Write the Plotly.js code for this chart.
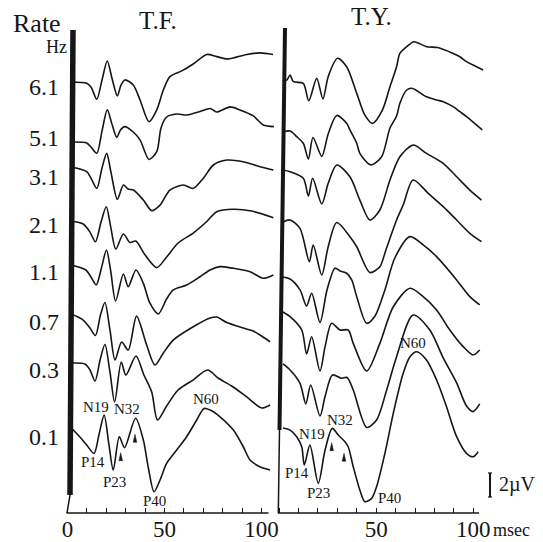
<!DOCTYPE html>
<html>
<head>
<meta charset="utf-8">
<script src="https://cdn.plot.ly/plotly-3.0.1.min.js"></script>
<style>
html,body{margin:0;padding:0;background:#fff;}
#chart{width:543px;height:542px;}
</style>
</head>
<body>
<div id="chart"></div>
<script>
// ---------- data (latency in msec, amplitude in µV relative to trace start) ----------
const rateLabels = ['6.1','5.1','3.1','2.1','1.1','0.7','0.3','0.1'];
const tickVals = [0,10,20,30,40,50,60,70,80,90,100];
const tickTextTF = ['0','','','','','50','','','','','100'];
const tickTextTY = ['','','','','','50','','','','','100'];
const peakNames = ['N19','N32','N60','P14','P23','P40'];

// T.F.
const tf61Lat = [2, 9.9, 12.1, 15.1, 17.8, 20.5, 22.9, 25.7, 27.6, 29.6, 33.9, 37.4, 42.0, 46.0, 49.4, 52.8, 58.9, 64.8, 71.8, 76.9, 82.7, 92.4, 99.2, 105.9];
const tf61Amp = [0, -0.11, -0.42, -1.44, 0.17, 1.75, 0.33, -1.17, -0.25, 0.17, -0.25, -1.5, -3.31, -2.33, -0.67, 0.44, 0.92, 1.5, 2.29, 2.11, 1.92, 2.29, 2.42, 2.29];
const tf51Lat = [2, 9.9, 12.1, 15.1, 17.8, 20.5, 22.9, 25.4, 27.3, 29.6, 33.9, 37.4, 42.0, 46.0, 48.2, 51.1, 56.3, 61.4, 68.3, 73.5, 76.9, 83.8, 88.9, 95.8, 100.9, 106.4];
const tf51Amp = [0, -0.08, -0.42, -0.94, 0.92, 2.67, 1.5, 0.38, 1.0, 1.28, 0.83, 0.17, -1.46, -0.81, 1.17, 2.08, 2.33, 2.25, 2.53, 2.79, 2.5, 2.92, 2.67, 2.17, 1.42, 1.28];
const tf31Lat = [2, 9.9, 12.1, 15.1, 17.8, 20.2, 22.4, 25.7, 28.8, 31.2, 34.0, 39.1, 43.4, 47.7, 52.8, 59.7, 64.8, 70.0, 75.2, 82.1, 90.6, 99.2, 106.1];
const tf31Amp = [0, -0.38, -0.92, -1.78, -0.08, 1.14, -0.42, -2.69, -1.5, -1.83, -1.92, -2.75, -3.63, -3.17, -1.92, -1.5, -1.78, -0.94, 0.17, 0.58, 0.44, 0.03, -0.25];
const tf21Lat = [2, 8.1, 11.6, 14.4, 17.3, 20.0, 22.2, 24.9, 28.8, 32.2, 35.2, 40.0, 46.0, 51.1, 57.0, 64.8, 71.8, 76.9, 85.5, 94.9, 106.1];
const tf21Amp = [0, -0.25, -0.92, -1.73, -0.08, 1.19, -0.42, -2.33, -1.08, -1.79, -1.67, -2.83, -3.88, -3.0, -1.83, -1.0, -0.04, 0.78, 0.98, 0.83, 0.27];
const tf11Lat = [2, 9.5, 12.1, 14.8, 17.5, 20.1, 22.2, 24.8, 28.8, 31.3, 35.3, 39.1, 42.5, 46.8, 51.1, 54.5, 61.4, 68.3, 73.5, 78.6, 85.5, 94.1, 100.9, 106.1];
const tf11Amp = [0, -0.42, -1.0, -1.67, -0.25, 1.25, -0.42, -3.0, -0.75, -1.81, -0.42, -1.53, -3.19, -4.08, -2.83, -2.08, -1.67, -0.98, -0.42, -0.14, -0.28, -0.56, -1.11, -0.83];
const tf07Lat = [2, 8.1, 11.6, 14.4, 17.0, 19.3, 21.9, 24.5, 27.9, 31.3, 35.6, 40.8, 45.1, 49.4, 54.5, 64.8, 73.5, 76.9, 82.1, 90.6, 95.8, 99.2, 104.4];
const tf07Amp = [0, -0.5, -1.17, -1.79, -0.08, 0.96, -1.33, -3.83, -2.33, -3.0, -0.17, -2.58, -4.25, -3.25, -2.17, -1.06, -0.33, -0.25, -0.71, -1.17, -1.42, -1.75, -2.31];
const tf03Lat = [2, 9.0, 11.6, 14.2, 16.8, 19.3, 21.9, 24.3, 27.7, 30.1, 35.3, 39.4, 43.4, 46.4, 51.1, 57.0, 64.7, 72.2, 77.6, 84.6, 92.4, 100.1, 104.4];
const tf03Amp = [0, -0.08, -0.58, -1.5, 0.25, 1.54, -0.75, -3.25, 0.08, -1.0, 0.58, -1.0, -2.42, -4.75, -3.58, -2.25, -1.42, -0.58, -1.25, -1.92, -2.83, -3.75, -3.5];
const tf01Lat = [2, 6.4, 9.9, 13.7, 16.2, 18.9, 21.4, 23.6, 26.7, 29.4, 35.1, 39.1, 41.6, 44.6, 47.7, 51.1, 56.3, 61.4, 66.6, 70.4, 73.5, 78.6, 85.5, 90.6, 94.1, 99.2, 104.4];
const tf01Amp = [0, -0.75, -1.42, -2.11, -0.58, 1.08, -1.42, -3.5, -0.73, -1.63, 0.81, -1.0, -3.25, -5.31, -4.33, -2.94, -1.83, -0.73, 0.67, 1.63, 1.5, 0.94, -0.17, -1.56, -2.67, -3.23, -3.5];

// T.Y.
const ty61Lat = [2, 4.0, 5.7, 7.4, 12.5, 15.3, 19.4, 22.6, 25.3, 30.1, 34.8, 40.0, 44.2, 48.1, 53.2, 57.1, 60.5, 62.2, 65.7, 69.4, 75.9, 81.7, 89.6, 93.1, 96.5, 99.9, 105.0];
const ty61Amp = [0, 0, 0.42, -0.14, -0.28, -1.73, 0.14, -1.57, 0.28, 1.81, 1.11, -1.11, -2.92, -3.61, -2.5, -0.56, 1.11, 2.22, 2.78, 3.19, 2.78, 2.71, 2.22, 1.94, 1.53, 1.25, 0.83];
const ty51Lat = [2, 5.7, 9.1, 12.5, 15.1, 17.5, 22.0, 25.3, 29.7, 34.8, 36.5, 40.0, 41.6, 47.3, 52.8, 57.1, 60.5, 62.2, 65.7, 68.4, 75.9, 81.1, 84.5, 89.6, 93.1, 96.5, 104.6];
const ty51Amp = [0, 0.08, -0.39, -0.94, -2.25, -0.46, -2.03, -0.17, 1.38, 0.73, 0.17, -0.94, -1.78, -2.75, -2.06, 0.33, 1.33, 2.39, 3.5, 3.64, 2.94, 2.67, 2.53, 2.11, 1.69, 1.28, 0.17];
const ty31Lat = [2, 5.7, 12.5, 15.1, 17.3, 22.0, 25.3, 29.7, 36.5, 41.6, 46.8, 51.9, 57.1, 62.2, 69.0, 75.9, 84.5, 91.4, 98.2, 104.2];
const ty31Amp = [0, -0.14, -0.69, -2.17, -0.69, -2.83, -1.11, 0.42, -0.56, -2.5, -4.17, -3.33, -0.83, 1.11, 2.08, 1.39, 0.56, -0.56, -1.67, -2.5];
const ty21Lat = [2, 5.7, 10.8, 15.6, 17.6, 22.0, 25.3, 29.7, 36.5, 40.0, 46.8, 51.9, 55.0, 60.5, 63.9, 69.0, 76.8, 84.5, 91.4, 98.2, 104.2];
const ty21Amp = [0, 0.17, -0.53, -3.31, -1.92, -4.42, -2.06, -0.04, -1.22, -2.06, -4.21, -3.72, -2.33, 0.17, 1.42, 3.5, 2.39, 1.28, 0.17, -0.94, -1.64];
const ty11Lat = [2, 5.7, 10.8, 14.2, 16.8, 21.1, 24.7, 28.8, 31.4, 34.8, 37.4, 40.0, 45.1, 49.4, 54.5, 59.6, 67.4, 74.2, 81.1, 91.4, 98.2, 103.3];
const ty11Amp = [0, -0.17, -1.08, -2.42, -1.36, -3.79, -1.08, 0.73, 0.5, 0.31, -0.25, -1.64, -3.86, -3.25, -1.08, 1.58, 3.36, 2.67, 1.69, -0.25, -1.64, -2.33];
const ty07Lat = [2, 5.7, 11.7, 14.2, 16.8, 21.1, 23.7, 27.1, 31.4, 35.6, 38.2, 45.1, 51.9, 58.8, 67.4, 74.2, 81.1, 87.9, 94.8, 99.9, 103.3];
const ty07Amp = [0, -0.39, -1.5, -3.5, -2.06, -4.92, -2.89, -0.94, -1.5, -1.5, -2.61, -4.92, -2.61, 0.44, 1.98, 1.28, 0.17, -1.5, -2.89, -3.58, -3.17];
const ty03Lat = [2, 5.7, 10.8, 13.8, 16.3, 21.1, 23.7, 27.5, 32.2, 35.0, 38.2, 45.1, 50.2, 55.4, 60.5, 69.0, 77.6, 84.5, 91.4, 96.5, 99.9, 103.3];
const ty03Amp = [0, -0.5, -1.61, -3.33, -1.75, -4.33, -2.72, -0.92, -1.19, -1.13, -2.17, -5.29, -4.67, -2.17, 0.61, 4.08, 2.83, 0.5, -1.58, -3.5, -3.97, -3.33];
const ty01Lat = [2, 5.7, 9.1, 11.7, 13.0, 15.9, 20.2, 23.7, 27.4, 30.5, 33.9, 35.6, 38.2, 41.6, 44.2, 47.7, 50.2, 54.5, 58.8, 63.9, 67.4, 70.8, 75.9, 81.1, 86.2, 91.4, 96.5, 99.9, 102.5];
const ty01Amp = [0, -0.17, -0.72, -1.56, -3.08, -1.42, -4.61, -1.83, -0.03, -0.58, -1.14, -1.56, -3.22, -5.17, -6.14, -5.86, -4.89, -2.11, 1.22, 4.56, 5.94, 6.36, 5.67, 4.0, 1.78, -0.72, -2.11, -2.39, -1.97];

// ---------- layout constants ----------
const W = 543, H = 542, ML = 40, MR = 40, MT = 10, MB = 29;
const PW = W - ML - MR, PH = H - MT - MB;
const PX_PER_UV = 12;               // 2 µV scale bar = 24 px
const fx = p => (p - ML) / PW;
const fy = p => (H - MB - p) / PH;
// vertical stacking offsets (µV above the x axis) for each rate
const offsetsTF = [35.92, 30.92, 28.83, 24.33, 20.67, 16.58, 12.5, 7.08];
const offsetsTY = [36.08, 31.75, 28.58, 24.25, 19.67, 16.75, 12.42, 7.08];

const tfSeries = [[tf61Lat,tf61Amp],[tf51Lat,tf51Amp],[tf31Lat,tf31Amp],[tf21Lat,tf21Amp],
                  [tf11Lat,tf11Amp],[tf07Lat,tf07Amp],[tf03Lat,tf03Amp],[tf01Lat,tf01Amp]];
const tySeries = [[ty61Lat,ty61Amp],[ty51Lat,ty51Amp],[ty31Lat,ty31Amp],[ty21Lat,ty21Amp],
                  [ty11Lat,ty11Amp],[ty07Lat,ty07Amp],[ty03Lat,ty03Amp],[ty01Lat,ty01Amp]];

const lineStyle = {color:'#161616', width:1.6, shape:'spline', smoothing:0.8};
const traces = [];
tfSeries.forEach((s,i) => traces.push({
  x: s[0], y: s[1].map(v => v + offsetsTF[i]), xaxis:'x', yaxis:'y',
  type:'scatter', mode:'lines', line: lineStyle, name:'T.F. '+rateLabels[i], hoverinfo:'skip'
}));
tySeries.forEach((s,i) => traces.push({
  x: s[0], y: s[1].map(v => v + offsetsTY[i]), xaxis:'x2', yaxis:'y',
  type:'scatter', mode:'lines', line: lineStyle, name:'T.Y. '+rateLabels[i], hoverinfo:'skip'
}));

const serif = 'Liberation Serif, Times New Roman, serif';
const ink = '#161616';
const axisCommon = {
  tickmode:'array', tickvals: tickVals,
  ticks:'inside', ticklen:5, tickwidth:1, tickcolor: ink,
  showline:false, showgrid:false, zeroline:false, fixedrange:true,
  tickfont:{family: serif, size:23, color: ink}, anchor:'y'
};

const rateY = [87, 138, 177, 225, 272, 322, 370, 437];
const annotations = [];
const ann = (text, x, y, size, xanchor) => annotations.push({
  text, x: fx(x), y: fy(y), xref:'paper', yref:'paper', showarrow:false,
  xanchor: xanchor || 'center', yanchor:'middle',
  font:{family: serif, size, color: ink}
});
ann('Rate', 37, 23, 26);
ann('Hz', 56, 47, 18);
rateLabels.forEach((r,i) => ann(r, 61, rateY[i], 24, 'right'));
ann('T.F.', 157.5, 20, 25);
ann('T.Y.', 371.5, 17, 25);
ann('msec', 511, 530, 18);
ann('2µV', 497, 484, 20, 'left');
// peak labels
const tfPeakPos = [[95.7,406.7],[127.3,409],[205.7,399],[93.3,462],[114,481.7],[154.3,500.7]];
const tyPeakPos = [[312.3,434.3],[340,420],[413.3,342.7],[297.3,473.3],[318.3,492.7],[389,497.7]];
peakNames.forEach((n,i) => { ann(n, tfPeakPos[i][0], tfPeakPos[i][1], 15); ann(n, tyPeakPos[i][0], tyPeakPos[i][1], 15); });

const shapes = [];
const seg = (x0,y0,x1,y1,w) => shapes.push({type:'line', xref:'paper', yref:'paper',
  x0:fx(x0), y0:fy(y0), x1:fx(x1), y1:fy(y1), line:{color:ink, width:w}});
// thick stimulus bars + thin continuation
seg(73, 30, 70, 495, 5.5); seg(70, 495, 67, 513, 1.5);
seg(285, 28, 279.5, 430, 4); seg(279.5, 430, 278.3, 513, 1.5);
// x axis lines
seg(66.5, 513, 268.5, 513, 1.5);
seg(278, 513, 479, 513, 1.5);
// scale bar
seg(490, 473, 490, 497, 2); seg(488, 473, 492, 473, 1.2); seg(488, 497, 492, 497, 1.2);
// small arrowheads under N32 shoulders
const arrowPos = [[120.7,456.7],[135,438.3],[331.7,446.7],[344,457.3]];
arrowPos.forEach(p => shapes.push({type:'path', xref:'paper', yref:'paper',
  path:`M ${fx(p[0]-1.8)},${fy(p[1]+4)} L ${fx(p[0])},${fy(p[1]-4)} L ${fx(p[0]+1.8)},${fy(p[1]+4)} Z`,
  fillcolor: ink, line:{color:ink, width:0.5}}));

const layout = {
  width: W, height: H,
  margin:{l:ML, r:MR, t:MT, b:MB, pad:0},
  paper_bgcolor:'#fff', plot_bgcolor:'#fff',
  showlegend:false,
  xaxis: Object.assign({}, axisCommon, {ticktext: tickTextTF, domain:[fx(63.6), fx(275.1)], range:[-2, 107]}),
  xaxis2: Object.assign({}, axisCommon, {ticktext: tickTextTY, domain:[fx(276.1), fx(487.9)], range:[-1.5, 107.5]}),
  yaxis: {range:[0, PH/PX_PER_UV], visible:false, fixedrange:true, domain:[0,1]},
  annotations, shapes
};

Plotly.newPlot('chart', traces, layout, {staticPlot:true, displayModeBar:false});
</script>
</body>
</html>
